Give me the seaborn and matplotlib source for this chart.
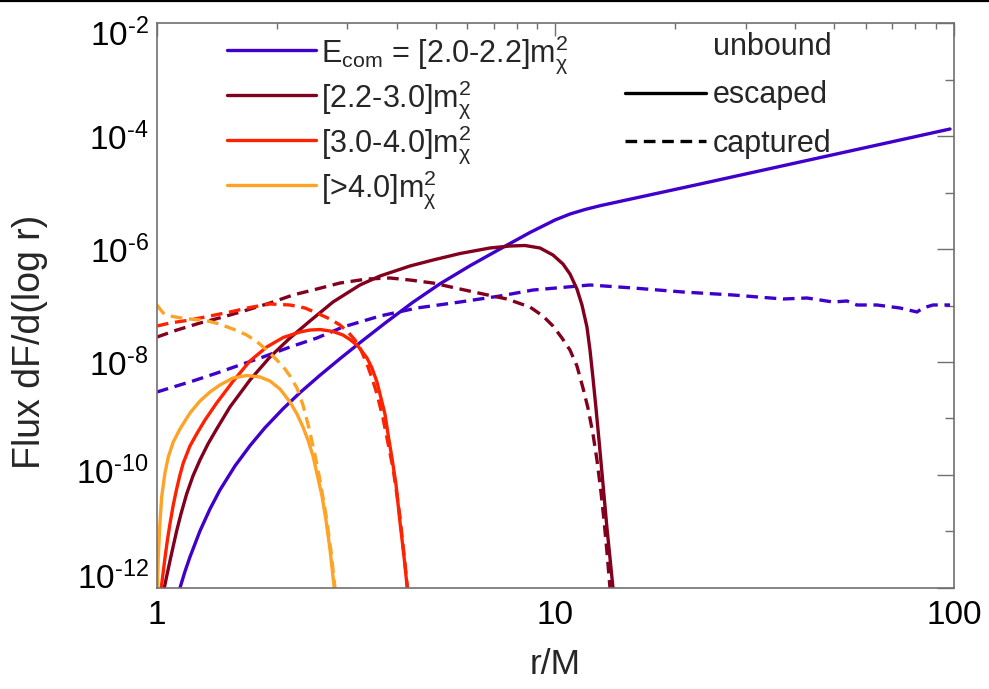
import matplotlib.pyplot as plt
import numpy as np
import pandas as pd
import seaborn as sns
from matplotlib.lines import Line2D
from matplotlib.ticker import NullFormatter
from matplotlib.transforms import ScaledTranslation

# values: log10(r/M) and log10(dF/dlog r)
# E_com = [2.0-2.2] m_chi^2
lx_20_esc = [0.0577, 0.0703, 0.0828, 0.1079, 0.1330, 0.1581, 0.1957, 0.2334, 0.2710, 0.3162, 0.3588, 0.4090,
             0.4592, 0.5094, 0.5721, 0.6424, 0.7102, 0.7854, 0.8607, 0.9360, 0.9987, 1.0364, 1.0740, 1.1117,
             1.3626, 1.6136, 1.8645, 1.9900]
ly_20_esc = [-12.0, -11.708, -11.451, -10.991, -10.602, -10.265, -9.841, -9.482, -9.164, -8.829, -8.543, -8.235,
             -7.942, -7.658, -7.313, -6.942, -6.616, -6.297, -6.000, -5.708, -5.487, -5.381, -5.301, -5.234,
             -4.850, -4.460, -4.071, -3.876]
lx_20_cap = [0.0, 0.0326, 0.0903, 0.1506, 0.2083, 0.2660, 0.3338, 0.4015, 0.4667, 0.5596, 0.6524, 0.7604,
             0.8607, 0.9435, 1.0289, 1.0866, 1.1945, 1.3200, 1.4454, 1.5709, 1.6311, 1.6964, 1.7315, 1.7566,
             1.8068, 1.8645, 1.9072, 1.9222, 1.9473, 1.9900]
ly_20_cap = [-8.531, -8.460, -8.336, -8.195, -8.053, -7.912, -7.735, -7.575, -7.381, -7.186, -7.044, -6.938,
             -6.832, -6.726, -6.673, -6.637, -6.690, -6.761, -6.814, -6.885, -6.867, -6.938, -6.920, -6.991,
             -6.991, -7.044, -7.115, -7.044, -6.991, -6.991]

# [2.2-3.0]
lx_22_esc = [0.0183, 0.0251, 0.0326, 0.0409, 0.0494, 0.0602, 0.0745, 0.0903, 0.1079, 0.1280, 0.1498, 0.1832,
             0.2334, 0.2836, 0.3338, 0.3839, 0.4417, 0.5094, 0.5596, 0.6349, 0.6926, 0.7604, 0.8356, 0.8858,
             0.9235, 0.9611, 0.9937, 1.0188, 1.0364, 1.0539, 1.0665, 1.0790, 1.0866, 1.0941, 1.1016, 1.1092,
             1.1192, 1.1292, 1.1368, 1.1443]
ly_22_esc = [-12.0, -11.770, -11.522, -11.257, -10.991, -10.690, -10.336, -10.018, -9.735, -9.451, -9.186,
             -8.796, -8.319, -7.912, -7.575, -7.274, -6.938, -6.637, -6.478, -6.301, -6.195, -6.080, -5.982,
             -5.947, -5.938, -5.982, -6.106, -6.265, -6.442, -6.708, -6.991, -7.381, -7.788, -8.283, -8.814,
             -9.381, -10.159, -10.938, -11.469, -12.0]
lx_22_cap = [0.0, 0.0502, 0.1079, 0.1656, 0.2258, 0.2836, 0.3413, 0.4015, 0.4592, 0.5270, 0.5847, 0.6349,
             0.6926, 0.7604, 0.8181, 0.8783, 0.9360, 0.9686, 0.9937, 1.0163, 1.0364, 1.0539, 1.0690, 1.0815,
             1.0941, 1.1041, 1.1142, 1.1217, 1.1292, 1.1368]
ly_22_cap = [-7.558, -7.434, -7.310, -7.204, -7.080, -6.956, -6.814, -6.708, -6.602, -6.531, -6.513, -6.549,
             -6.602, -6.708, -6.796, -6.885, -7.027, -7.186, -7.363, -7.575, -7.788, -8.071, -8.460, -8.814,
             -9.274, -9.735, -10.301, -10.796, -11.363, -12.0]

# [3.0-4.0]
lx_30_esc = [0.0108, 0.0151, 0.0201, 0.0263, 0.0326, 0.0409, 0.0494, 0.0577, 0.0660, 0.0828, 0.0996, 0.1205,
             0.1498, 0.1915, 0.2334, 0.2753, 0.3169, 0.3588, 0.3839, 0.4090, 0.4417, 0.4667, 0.4843, 0.5044,
             0.5270, 0.5395, 0.5521, 0.5621, 0.5721, 0.5822, 0.5897, 0.5997, 0.6098, 0.6198, 0.6281]
ly_30_esc = [-12.0, -11.752, -11.469, -11.150, -10.867, -10.531, -10.248, -10.0, -9.788, -9.487, -9.274, -9.027,
             -8.726, -8.336, -7.982, -7.735, -7.566, -7.469, -7.434, -7.425, -7.460, -7.522, -7.602, -7.717,
             -7.929, -8.106, -8.354, -8.637, -8.920, -9.381, -9.699, -10.159, -10.832, -11.434, -12.0]
lx_30_cap = [0.0, 0.0326, 0.0828, 0.1330, 0.1832, 0.2334, 0.2836, 0.3338, 0.3714, 0.4040, 0.4341, 0.4592,
             0.4793, 0.4969, 0.5119, 0.5270, 0.5395, 0.5521, 0.5671, 0.5797, 0.5922, 0.6023, 0.6098, 0.6173,
             0.6223, 0.6286]
ly_30_cap = [-7.363, -7.310, -7.257, -7.186, -7.115, -7.035, -6.973, -6.991, -7.044, -7.142, -7.239, -7.345,
             -7.469, -7.611, -7.788, -8.035, -8.283, -8.566, -8.991, -9.434, -9.876, -10.354, -10.743, -11.239,
             -11.558, -12.0]

# [>4.0]
lx_40_esc = [0.0008, 0.0033, 0.0075, 0.0118, 0.0201, 0.0284, 0.0409, 0.0577, 0.0828, 0.1079, 0.1330, 0.1581,
             0.1907, 0.2258, 0.2585, 0.2836, 0.3087, 0.3338, 0.3513, 0.3664, 0.3789, 0.3915, 0.4040, 0.4141,
             0.4241, 0.4341, 0.4449]
ly_40_esc = [-12.0, -11.451, -10.850, -10.389, -9.965, -9.681, -9.416, -9.186, -8.903, -8.690, -8.531, -8.407,
             -8.283, -8.239, -8.265, -8.336, -8.478, -8.708, -8.920, -9.150, -9.381, -9.664, -10.053, -10.372,
             -10.796, -11.310, -12.0]
lx_40_cap = [0.0, 0.0075, 0.0158, 0.0326, 0.0660, 0.0954, 0.1247, 0.1498, 0.1749, 0.2000, 0.2251, 0.2502,
             0.2753, 0.2961, 0.3169, 0.3338, 0.3513, 0.3664, 0.3814, 0.3965, 0.4090, 0.4241, 0.4366, 0.4467]
ly_40_cap = [-6.991, -7.062, -7.133, -7.186, -7.227, -7.248, -7.269, -7.315, -7.375, -7.442, -7.522, -7.637,
             -7.788, -7.929, -8.083, -8.248, -8.460, -8.761, -9.168, -9.646, -10.088, -10.708, -11.345, -12.0]

ranges = ["2.0-2.2", "2.2-3.0", "3.0-4.0", ">4.0"]
range_labels = [r"E$_{\rm com}$ = [2.0-2.2]m$_\chi^2$", r"[2.2-3.0]m$_\chi^2$",
                r"[3.0-4.0]m$_\chi^2$", r"[>4.0]m$_\chi^2$"]
colors = ["#4000cc", "#82001e", "#ff2200", "#ffa326"]
kinds = ["unbound", "escaped", "captured"]

x_major = [1, 10, 100]
x_major_labels = ["1", "10", "100"]
x_minor = [2, 3, 4, 5, 6, 7, 8, 9, 20, 30, 40, 50, 60, 70, 80, 90]
y_exp_major = [-12, -10, -8, -6, -4, -2]
y_exp_minor = [-11, -9, -7, -5, -3]

curves = [
    ("2.0-2.2", "escaped", lx_20_esc, ly_20_esc),
    ("2.0-2.2", "captured", lx_20_cap, ly_20_cap),
    ("2.2-3.0", "escaped", lx_22_esc, ly_22_esc),
    ("2.2-3.0", "captured", lx_22_cap, ly_22_cap),
    ("3.0-4.0", "escaped", lx_30_esc, ly_30_esc),
    ("3.0-4.0", "captured", lx_30_cap, ly_30_cap),
    (">4.0", "escaped", lx_40_esc, ly_40_esc),
    (">4.0", "captured", lx_40_cap, ly_40_cap),
]
frames = []
for rng, kind, lx, ly in curves:
    frames.append(pd.DataFrame({"r": 10.0 ** np.array(lx), "flux": 10.0 ** np.array(ly),
                                "range": rng, "kind": kind}))
df = pd.concat(frames, ignore_index=True)

sns.set_theme(style="white")
plt.rcParams["font.family"] = ["Liberation Sans", "DejaVu Sans"]
plt.rcParams["mathtext.fontset"] = "custom"
plt.rcParams["mathtext.rm"] = "Liberation Sans"
plt.rcParams["mathtext.it"] = "Liberation Sans:italic"
plt.rcParams["mathtext.bf"] = "Liberation Sans:bold"
plt.rcParams["mathtext.default"] = "regular"

fig, ax = plt.subplots(figsize=(9.89, 6.89), dpi=100)
fig.subplots_adjust(left=0.1587, right=0.9646, bottom=0.1466, top=0.9666)

dash_style = (3.5, 2)
sns.lineplot(data=df, x="r", y="flux", hue="range", style="kind",
             palette=dict(zip(ranges, colors)),
             dashes={"escaped": "", "captured": dash_style},
             estimator=None, sort=False, lw=2.4, legend=False, ax=ax)

ax.set_xscale("log")
ax.set_yscale("log")
ax.set_xlim(1, 100)
ax.set_ylim(1e-12, 1e-2)

ax.set_xticks(x_major)
ax.set_xticklabels(x_major_labels)
ax.set_xticks(x_minor, minor=True)
ax.set_yticks([10.0 ** e for e in y_exp_major])
ax.set_yticklabels([r"$10^{\text{%d}}$" % e for e in y_exp_major])
ax.set_yticks([10.0 ** e for e in y_exp_minor], minor=True)
ax.xaxis.set_minor_formatter(NullFormatter())
ax.yaxis.set_minor_formatter(NullFormatter())

axis_gray = "#707070"
ax.tick_params(which="both", direction="in", top=True, right=True, color=axis_gray,
               width=1, labelsize=24, labelcolor="black")
ax.tick_params(axis="x", which="major", length=9, pad=9)
ax.tick_params(axis="x", which="minor", length=4.5)
ax.tick_params(axis="y", which="major", length=12, pad=6)
ax.tick_params(axis="y", which="minor", length=6.5)
for sp in ax.spines.values():
    sp.set_color(axis_gray)
    sp.set_linewidth(1.2)

# the end labels of the y axis sit a little inside, as in the original
label_shift = {-2: -6.5, -10: 3.6, -12: 9.4}
for e, lab in zip(y_exp_major, ax.get_yticklabels()):
    if e in label_shift:
        lab.set_transform(lab.get_transform() + ScaledTranslation(0, label_shift[e] / 72, fig.dpi_scale_trans))

ax.set_xlabel("r/M", fontsize=25.5, labelpad=12)
ax.set_ylabel("Flux dF/d(log r)", fontsize=27)
ax.yaxis.set_label_coords(-0.137, 0.435)

# legend for energy bins
handles1 = [Line2D([], [], color=c, lw=2.4) for c in colors]
leg1 = ax.legend(handles1, range_labels, loc="upper left", bbox_to_anchor=(0.088, 0.983),
                 frameon=False, fontsize=22, handlelength=2.9, handletextpad=0.18,
                 labelspacing=0.07, borderpad=0, borderaxespad=0)
ax.add_artist(leg1)

# legend for line styles
handles2 = [Line2D([], [], color="none"),
            Line2D([], [], color="black", lw=2.4),
            Line2D([], [], color="black", lw=2.4, dashes=dash_style)]
ax.legend(handles2, kinds, loc="upper left", bbox_to_anchor=(0.587, 0.984),
          frameon=False, fontsize=22, handlelength=2.65, handletextpad=0.24,
          labelspacing=0.6, borderpad=0, borderaxespad=0)

# black rule along the top of the page
fig.add_artist(Line2D([0, 1], [0.9985, 0.9985], color="black", lw=1.6, transform=fig.transFigure))

fig.savefig("out.png", dpi=100)
